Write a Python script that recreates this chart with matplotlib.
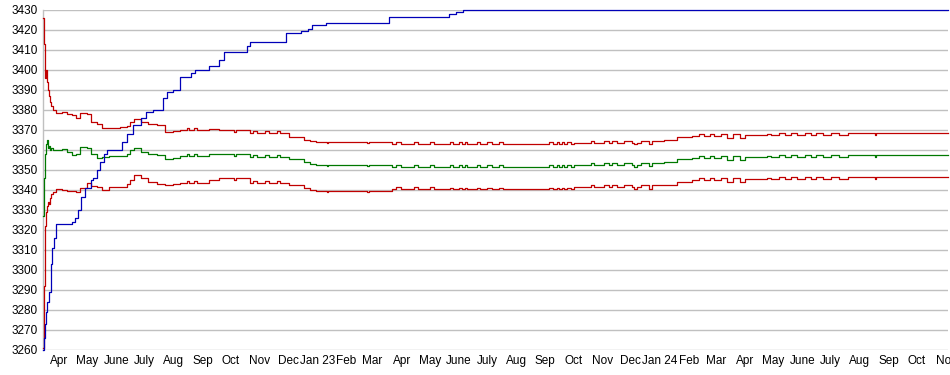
import matplotlib
matplotlib.use('Agg')
import matplotlib.pyplot as plt
import pandas as pd

plt.rcParams['font.family'] = ['Liberation Sans', 'DejaVu Sans']

# rising (cumulative) series
blue_dates = [
    '2022-03-15', '2022-03-16', '2022-03-17', '2022-03-18', '2022-03-19',
    '2022-03-21', '2022-03-23', '2022-03-25', '2022-03-27', '2022-03-29',
    '2022-04-15', '2022-04-18', '2022-04-21', '2022-04-25', '2022-04-29',
    '2022-05-05', '2022-05-07', '2022-05-11', '2022-05-15', '2022-05-19',
    '2022-05-22', '2022-06-07', '2022-06-12', '2022-06-19', '2022-06-27',
    '2022-07-03', '2022-07-10', '2022-07-21', '2022-07-25', '2022-07-31',
    '2022-08-08', '2022-08-20', '2022-08-24', '2022-09-08', '2022-09-19',
    '2022-09-24', '2022-10-18', '2022-10-21', '2022-11-29', '2022-12-15',
    '2022-12-22', '2022-12-27', '2023-01-10', '2023-03-19', '2023-05-22',
    '2023-05-29', '2023-06-05', '2024-11-03',
]
blue_vals = [
    3260, 3266, 3273, 3279, 3284,
    3289, 3303, 3311, 3316, 3323,
    3324, 3326, 3330, 3336.5, 3341,
    3345, 3346, 3350, 3354, 3358,
    3360, 3364, 3368, 3372.5, 3376,
    3379, 3380, 3386, 3389, 3390,
    3396.5, 3398.5, 3400, 3402, 3405,
    3409, 3412, 3414, 3418.5, 3419.5,
    3420.5, 3422.5, 3423.5, 3426.5, 3428,
    3429, 3430, 3430,
]

# band series: upper (red), middle (green), lower (red)
band_dates = [
    '2022-03-15', '2022-03-16', '2022-03-17', '2022-03-18', '2022-03-19',
    '2022-03-20', '2022-03-21', '2022-03-22', '2022-03-24', '2022-03-26',
    '2022-03-29', '2022-04-04', '2022-04-10', '2022-04-15', '2022-04-19',
    '2022-04-23', '2022-05-01', '2022-05-05', '2022-05-12', '2022-05-17',
    '2022-05-24', '2022-06-05', '2022-06-12', '2022-06-16', '2022-06-20',
    '2022-06-27', '2022-07-05', '2022-07-14', '2022-07-23', '2022-07-31',
    '2022-08-08', '2022-08-15', '2022-08-18', '2022-08-23', '2022-08-26',
    '2022-09-08', '2022-09-19', '2022-10-04', '2022-10-07', '2022-10-21',
    '2022-10-25', '2022-10-29', '2022-11-06', '2022-11-11', '2022-11-19',
    '2022-11-22', '2022-12-02', '2022-12-18', '2022-12-24', '2022-12-31',
    '2023-01-11', '2023-01-13', '2023-02-23', '2023-02-25', '2023-03-22',
    '2023-03-26', '2023-03-31', '2023-04-14', '2023-04-18', '2023-05-01',
    '2023-05-05', '2023-05-23', '2023-05-26', '2023-06-01', '2023-06-04',
    '2023-06-07', '2023-06-10', '2023-06-20', '2023-06-23', '2023-07-01',
    '2023-07-06', '2023-07-14', '2023-07-18', '2023-09-05', '2023-09-09',
    '2023-09-13', '2023-09-16', '2023-09-19', '2023-09-21', '2023-09-24',
    '2023-09-28', '2023-10-02', '2023-10-20', '2023-10-23', '2023-11-03',
    '2023-11-08', '2023-11-11', '2023-11-16', '2023-11-24', '2023-12-02',
    '2023-12-05', '2023-12-08', '2023-12-12', '2023-12-21', '2023-12-24',
    '2024-01-06', '2024-01-19', '2024-02-04', '2024-02-12', '2024-02-17',
    '2024-02-23', '2024-02-28', '2024-03-06', '2024-03-13', '2024-03-19',
    '2024-03-26', '2024-04-01', '2024-04-24', '2024-04-28', '2024-05-07',
    '2024-05-13', '2024-05-20', '2024-05-26', '2024-06-04', '2024-06-10',
    '2024-06-15', '2024-06-23', '2024-07-01', '2024-07-10', '2024-07-19',
    '2024-08-17', '2024-08-18', '2024-11-03',
]
upper = [
    3426, 3413, 3396, 3400, 3394,
    3390, 3387, 3384, 3382, 3380,
    3378.5, 3379, 3378, 3377.5, 3376,
    3378.5, 3378, 3374, 3373, 3371,
    3371, 3371.5, 3372, 3374, 3375.5,
    3374, 3373, 3372.5, 3369, 3369.5,
    3370, 3370.8, 3370, 3370.8, 3370,
    3370.5, 3370, 3369.2, 3370, 3368.5,
    3369.3, 3368.5, 3369.3, 3368.5, 3369.3,
    3368.5, 3366.5, 3365, 3364.5, 3364,
    3363.3, 3364, 3363.3, 3364, 3363,
    3363.8, 3363, 3363.8, 3363, 3363.8,
    3363, 3363.8, 3362.8, 3363.8, 3362.8,
    3363.8, 3362.8, 3363.8, 3362.8, 3363.8,
    3362.8, 3363.8, 3362.8, 3363.8, 3362.8,
    3363.8, 3362.8, 3363.8, 3362.8, 3363.8,
    3362.8, 3363.7, 3364.7, 3363.7, 3364.7,
    3363.7, 3364.7, 3363.7, 3364.7, 3363.7,
    3362.9, 3363.7, 3364.7, 3363.0, 3364.7,
    3365, 3366.3, 3367, 3367.8, 3367,
    3367.8, 3367, 3367.8, 3366.2, 3367.8,
    3366.2, 3367.5, 3368.2, 3367.5, 3368.5,
    3367.5, 3368.5, 3367.5, 3368.5, 3367.5,
    3368.5, 3367.5, 3368.5, 3367.5, 3368.3,
    3367.5, 3368.3, 3368.3,
]
middle = [
    3327, 3346, 3358, 3363, 3365,
    3361, 3362, 3360, 3361, 3360,
    3360, 3360.5, 3359, 3357.5, 3358,
    3361.5, 3361, 3358, 3356, 3356.5,
    3357, 3357, 3358, 3360, 3361,
    3359, 3358, 3357.5, 3355.5, 3356,
    3357, 3357.8, 3357, 3357.8, 3357,
    3358, 3358, 3357.2, 3358, 3356.5,
    3357.3, 3356.5, 3357.3, 3356.5, 3357.3,
    3356.5, 3355.5, 3354, 3353, 3352.5,
    3351.8, 3352.5, 3351.8, 3352.5, 3351.7,
    3352.5, 3351.7, 3352.5, 3351.7, 3352.5,
    3351.7, 3352.3, 3351.3, 3352.3, 3351.3,
    3352.3, 3351.3, 3352.3, 3351.3, 3352.3,
    3351.3, 3352.3, 3351.3, 3352.3, 3351.3,
    3352.3, 3351.3, 3352.3, 3351.3, 3352.3,
    3351.3, 3352.5, 3353.5, 3352.5, 3353.5,
    3352.5, 3353.5, 3352.5, 3353.5, 3352.5,
    3351.7, 3352.5, 3353.5, 3351.8, 3353.5,
    3354, 3355.3, 3356, 3356.8, 3356,
    3356.8, 3356, 3356.8, 3355.2, 3356.8,
    3355.2, 3356.5, 3357.2, 3356.5, 3357.5,
    3356.5, 3357.5, 3356.5, 3357.5, 3356.5,
    3357.5, 3356.5, 3357.5, 3356.5, 3357.3,
    3356.5, 3357.3, 3357.3,
]
lower = [
    3261, 3292, 3322, 3329, 3332,
    3334, 3333, 3336, 3338, 3339,
    3340.5, 3340, 3339.5, 3339.5, 3339,
    3341, 3343.5, 3342, 3341.5, 3340,
    3341.5, 3341.5, 3343, 3345, 3347.5,
    3346, 3344, 3343, 3342.5, 3343,
    3343.5, 3344.3, 3343.5, 3344.3, 3343.5,
    3345, 3346, 3345.2, 3346, 3343.5,
    3344.3, 3343.5, 3344.3, 3343.5, 3344.3,
    3343.5, 3342.5, 3341, 3340, 3339.7,
    3339, 3339.7, 3339, 3339.7, 3340.5,
    3341.3, 3340.5, 3341.3, 3340.5, 3341.3,
    3340.5, 3341.1, 3340.3, 3341.1, 3340.3,
    3341.1, 3340.3, 3341.1, 3340.3, 3341.1,
    3340.3, 3341.1, 3340.3, 3341.1, 3340.3,
    3341.1, 3340.3, 3341.1, 3340.3, 3341.1,
    3340.3, 3341.3, 3342.3, 3341.3, 3342.3,
    3341.3, 3342.3, 3341.3, 3342.3, 3341.3,
    3340.5, 3341.3, 3342.3, 3340.6, 3342.3,
    3342.5, 3344.2, 3345, 3345.8, 3345,
    3345.8, 3345, 3345.8, 3344.2, 3345.8,
    3344.2, 3345.5, 3346.2, 3345.5, 3346.5,
    3345.5, 3346.5, 3345.5, 3346.5, 3345.5,
    3346.5, 3345.5, 3346.5, 3345.5, 3346.3,
    3345.5, 3346.3, 3346.3,
]

RED = '#c00000'
GREEN = '#007800'
BLUE = '#0000b8'
GRID = '#c0c0c0'


def main():
    bd = pd.to_datetime(band_dates)
    bl = pd.to_datetime(blue_dates)

    fig = plt.figure(figsize=(9.5, 3.75), dpi=100)
    ax = fig.add_axes([43 / 950, 25 / 375, 905 / 950, 340 / 375])

    for vals, col in [(upper, RED), (middle, GREEN), (lower, RED)]:
        ax.plot(bd, vals, color=col, lw=0.9, drawstyle='steps-post',
                clip_on=False, zorder=3)
    ax.plot(bl, blue_vals, color=BLUE, lw=0.9, drawstyle='steps-post',
            clip_on=False, zorder=4)

    ax.set_ylim(3260, 3430)
    ax.set_yticks(range(3260, 3431, 10))
    ax.set_xlim(pd.Timestamp('2022-03-15'), pd.Timestamp('2024-11-03'))

    # month labels; January carries the two-digit year
    months = pd.date_range('2022-04-01', '2024-11-01', freq='MS')
    names = {1: 'Jan', 2: 'Feb', 3: 'Mar', 4: 'Apr', 5: 'May', 6: 'June',
             7: 'July', 8: 'Aug', 9: 'Sep', 10: 'Oct', 11: 'Nov', 12: 'Dec'}
    labels = [f"Jan {m.year % 100}" if m.month == 1 else names[m.month]
              for m in months]
    ax.set_xticks(months)
    ax.set_xticklabels(labels)

    ax.grid(axis='y', color=GRID, lw=1.0)
    ax.set_axisbelow(True)
    for s in ['top', 'right', 'bottom']:
        ax.spines[s].set_visible(False)
    ax.spines['left'].set_color(GRID)
    ax.spines['left'].set_linewidth(1.0)
    ax.tick_params(axis='both', length=0, labelsize=8.5, colors='#000000')
    ax.tick_params(axis='y', pad=4)
    ax.tick_params(axis='x', pad=3.5)

    fig.savefig('out.png', dpi=100)
    plt.close(fig)


if __name__ == '__main__':
    main()
